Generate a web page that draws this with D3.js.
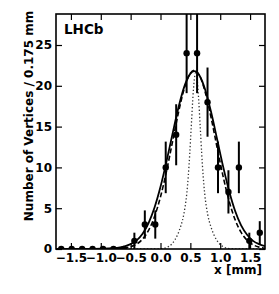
<!DOCTYPE html>
<html><head><meta charset="utf-8">
<script src="https://cdn.jsdelivr.net/npm/d3@7"></script>
<style>
html,body{margin:0;padding:0;background:#fff;}
svg{display:block;}
text{font-family:"DejaVu Sans",sans-serif;font-weight:bold;fill:#000;}
</style></head>
<body>
<script>
// ---- data ----
const binCenters = [-1.6625,-1.4875,-1.3125,-1.1375,-0.9625,-0.7875,-0.6125,-0.4375,-0.2625,-0.0875,
                    0.0875,0.2625,0.4375,0.6125,0.7875,0.9625,1.1375,1.3125,1.4875,1.6625];
const counts = [0,0,0,0,0,0,0,1,3,3,10,14,24,24,18,10,7,10,1,2];
const errors = [0,0,0,0,0,0,0,1,1.73,1.73,3.16,3.74,4.9,4.9,4.24,3.16,2.65,3.16,1,1.41];

const fitSolid = [[-1.75,0],[-1.5,0],[-1.2,0],[-1.0,0.03],[-0.8,0.1],[-0.6,0.33],[-0.5,0.6],[-0.4,1.05],[-0.3,1.86],[-0.2,3.18],[-0.1,5.09],[0.0,7.63],[0.1,10.71],[0.2,14.07],[0.3,17.31],[0.4,19.93],[0.5,21.5],[0.565,21.8],[0.65,21.29],[0.75,19.48],[0.85,16.69],[0.95,13.39],[1.05,10.06],[1.15,7.08],[1.25,4.66],[1.35,2.9],[1.45,1.75],[1.55,1.0],[1.65,0.6],[1.75,0.35]];
const fitDashed = [[-1.75,0],[-1.0,0],[-0.8,0.02],[-0.6,0.12],[-0.5,0.28],[-0.4,0.6],[-0.3,1.22],[-0.2,2.29],[-0.1,3.98],[0,6.39],[0.1,9.51],[0.2,13.1],[0.3,16.7],[0.4,19.72],[0.5,21.55],[0.565,21.9],[0.65,21.3],[0.75,19.19],[0.85,16.01],[0.95,12.36],[1.05,8.84],[1.15,5.85],[1.25,3.58],[1.35,2.03],[1.45,1.07],[1.55,0.52],[1.65,0.23],[1.75,0.1]];
const resolution = [[-1.75,0],[-0.21,0],[-0.01,0.03],[0.09,0.15],[0.19,0.62],[0.24,1.1],[0.29,1.82],[0.34,2.81],[0.39,4.24],[0.44,6.79],[0.465,8.91],[0.49,11.71],[0.515,15.0],[0.54,18.26],[0.565,20.69],[0.59,21.6],[0.615,20.69],[0.64,18.26],[0.665,15.0],[0.69,11.71],[0.715,8.91],[0.74,6.79],[0.79,4.24],[0.84,2.81],[0.89,1.82],[0.94,1.1],[0.99,0.62],[1.09,0.15],[1.19,0.03],[1.39,0],[1.75,0]];

const xTicks = [-1.5,-1.0,-0.5,0.0,0.5,1.0,1.5];
const yTicks = [0,5,10,15,20,25];
const xDomain = [-1.75,1.75];
const yDomain = [0,28.8];

// ---- layout ----
const W=279,H=294;
const m={left:56,right:14,top:14,bottom:45};
const iw=W-m.left-m.right, ih=H-m.top-m.bottom;

const svg=d3.select("body").append("svg").attr("width",W).attr("height",H);
const x=d3.scaleLinear().domain(xDomain).range([m.left,m.left+iw]);
const y=d3.scaleLinear().domain(yDomain).range([m.top+ih,m.top]);

svg.append("defs").append("clipPath").attr("id","clip")
  .append("rect").attr("x",m.left).attr("y",m.top).attr("width",iw).attr("height",ih);

const g=svg.append("g").attr("clip-path","url(#clip)");
const line=d3.line().x(d=>x(d[0])).y(d=>y(d[1])).curve(d3.curveMonotoneX);

g.append("path").datum(resolution).attr("d",line).attr("fill","none")
  .attr("stroke","#333").attr("stroke-width",1.3).attr("stroke-dasharray","1.3,2.2");
g.append("path").datum(fitDashed).attr("d",line).attr("fill","none")
  .attr("stroke","#000").attr("stroke-width",1.6).attr("stroke-dasharray","5,2.5");
g.append("path").datum(fitSolid).attr("d",line).attr("fill","none")
  .attr("stroke","#000").attr("stroke-width",1.8);

// data points
const pts=binCenters.map((c,i)=>({x:c,v:counts[i],e:errors[i]}));
g.selectAll("line.err").data(pts.filter(d=>d.e>0)).enter().append("line")
  .attr("x1",d=>x(d.x)).attr("x2",d=>x(d.x))
  .attr("y1",d=>y(d.v-d.e)).attr("y2",d=>y(d.v+d.e))
  .attr("stroke","#000").attr("stroke-width",2);
g.selectAll("circle").data(pts).enter().append("circle")
  .attr("cx",d=>x(d.x)).attr("cy",d=>y(d.v)).attr("r",3.2).attr("fill","#000");

// axes
const fs=12;
const ax=d3.axisBottom(x).tickValues(xTicks).tickSize(-6).tickPadding(4)
  .tickFormat(d=>d3.format(".1f")(d).replace("-","\u2212"));
svg.append("g").attr("transform",`translate(0,${m.top+ih})`).call(ax);
const axTop=d3.axisTop(x).tickValues(xTicks).tickSize(-6).tickFormat("");
svg.append("g").attr("transform",`translate(0,${m.top})`).call(axTop);
const ay=d3.axisLeft(y).tickValues(yTicks).tickSize(-6).tickPadding(4);
svg.append("g").attr("transform",`translate(${m.left},0)`).call(ay);
const ayR=d3.axisRight(y).tickValues(yTicks).tickSize(-6).tickFormat("");
svg.append("g").attr("transform",`translate(${m.left+iw},0)`).call(ayR);

svg.selectAll(".domain").remove();
svg.selectAll(".tick line").attr("stroke","#000").attr("stroke-width",1.2);
svg.selectAll(".tick text").style("font-family","DejaVu Sans").style("font-weight","bold")
  .style("font-size",fs+"px").attr("fill","#000");

svg.append("rect").attr("x",m.left).attr("y",m.top).attr("width",iw).attr("height",ih)
  .attr("fill","none").attr("stroke","#000").attr("stroke-width",1.6);

// labels
svg.append("text").attr("x",m.left+iw-3).attr("y",274).attr("text-anchor","end")
  .style("font-size","12px").text("x [mm]");
svg.append("text").attr("transform","translate(33,116) rotate(-90)").attr("text-anchor","middle")
  .style("font-size","12px").text("Number of Vertices / 0.175 mm");
svg.append("text").attr("x",64).attr("y",34).style("font-size","13.5px").text("LHCb");
</script>
</body></html>
